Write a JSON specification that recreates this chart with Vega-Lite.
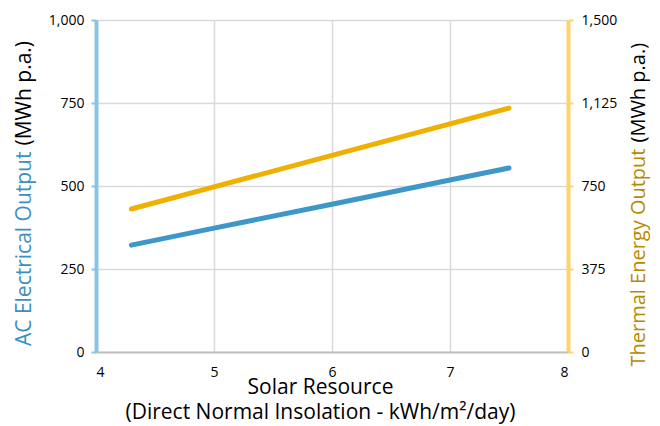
{
  "$schema": "https://vega.github.io/schema/vega-lite/v6.json",
  "width": 472,
  "height": 332,
  "autosize": {"type": "none"},
  "padding": {"left": 96, "top": 20, "right": 92, "bottom": 74},
  "background": "white",
  "config": {
    "font": "Open Sans",
    "view": {"stroke": null},
    "axis": {"labelFont": "Open Sans", "titleFont": "Open Sans", "labelColor": "#000000", "labelFontSize": 14, "titleFontSize": 21, "titleFontWeight": "normal"}
  },
  "data": {
    "values": [
      {"dni": 4.3, "ac": 322, "thermal": 646},
      {"dni": 5, "ac": 373, "thermal": 746},
      {"dni": 6, "ac": 445, "thermal": 888},
      {"dni": 7, "ac": 518, "thermal": 1031},
      {"dni": 7.5, "ac": 554, "thermal": 1102}
    ]
  },
  "encoding": {
    "x": {
      "field": "dni",
      "type": "quantitative",
      "scale": {"domain": [4, 8], "nice": false},
      "axis": {
        "values": [4, 5, 6, 7, 8],
        "format": "d",
        "title": ["Solar Resource", "(Direct Normal Insolation - kWh/m²/day)"],
        "titleLineHeight": 25,
        "titleX": 224,
        "titleY": 41,
        "titleBaseline": "alphabetic",
        "titleAlign": "center",
        "titleColor": "#000000",
        "domainColor": "#bfbfbf",
        "domainWidth": 2,
        "ticks": false,
        "labelPadding": 13,
        "grid": true,
        "gridColor": "#d9d9d9",
        "gridWidth": 1.5
      }
    }
  },
  "layer": [
    {
      "mark": {"type": "line", "strokeOpacity": 0},
      "encoding": {
        "y": {
          "field": "ac",
          "type": "quantitative",
          "scale": {"domain": [0, 1000], "nice": false},
          "axis": {
            "orient": "left",
            "domain": false,
            "ticks": false,
            "labels": false,
            "grid": false,
            "title": "(MWh p.a.)",
            "titleColor": "#000000",
            "titleAngle": -90,
            "titleAlign": "left",
            "titleBaseline": "middle",
            "titleX": -72,
            "titleY": 125
          }
        }
      }
    },
    {
      "mark": {"type": "line", "color": "#3d97c9", "strokeWidth": 5, "strokeCap": "round"},
      "encoding": {
        "y": {
          "field": "ac",
          "type": "quantitative",
          "scale": {"domain": [0, 1000], "nice": false},
          "axis": {
            "orient": "left",
            "values": [0, 250, 500, 750, 1000],
            "format": ",.0f",
            "domainColor": "#8dc3e2",
            "domainWidth": 4,
            "tickColor": "#8dc3e2",
            "tickSize": 5,
            "tickWidth": 2,
            "labelPadding": 7,
            "grid": true,
            "gridColor": "#d9d9d9",
            "gridWidth": 1.5,
            "title": "AC Electrical Output",
            "titleColor": "#3d8fc2",
            "titleAngle": -90,
            "titleAlign": "right",
            "titleBaseline": "middle",
            "titleX": -72,
            "titleY": 131
          }
        }
      }
    },
    {
      "mark": {"type": "line", "strokeOpacity": 0},
      "encoding": {
        "y": {
          "field": "thermal",
          "type": "quantitative",
          "scale": {"domain": [0, 1500], "nice": false},
          "axis": {
            "orient": "right",
            "domain": false,
            "ticks": false,
            "labels": false,
            "grid": false,
            "title": "(MWh p.a.)",
            "titleColor": "#000000",
            "titleFontSize": 20,
            "titleAngle": -90,
            "titleAlign": "left",
            "titleBaseline": "middle",
            "titleX": 70,
            "titleY": 122
          }
        }
      }
    },
    {
      "mark": {"type": "line", "color": "#f0b000", "strokeWidth": 5, "strokeCap": "round"},
      "encoding": {
        "y": {
          "field": "thermal",
          "type": "quantitative",
          "scale": {"domain": [0, 1500], "nice": false},
          "axis": {
            "orient": "right",
            "values": [0, 375, 750, 1125, 1500],
            "format": ",.0f",
            "domainColor": "#fdd46c",
            "domainWidth": 4,
            "tickColor": "#fdd46c",
            "tickSize": 5,
            "tickWidth": 2,
            "labelPadding": 8,
            "grid": false,
            "title": "Thermal Energy Output",
            "titleColor": "#b88a00",
            "titleFontSize": 20,
            "titleAngle": -90,
            "titleAlign": "right",
            "titleBaseline": "middle",
            "titleX": 70,
            "titleY": 128
          }
        }
      }
    }
  ],
  "resolve": {"scale": {"y": "independent"}, "axis": {"y": "independent"}}
}
